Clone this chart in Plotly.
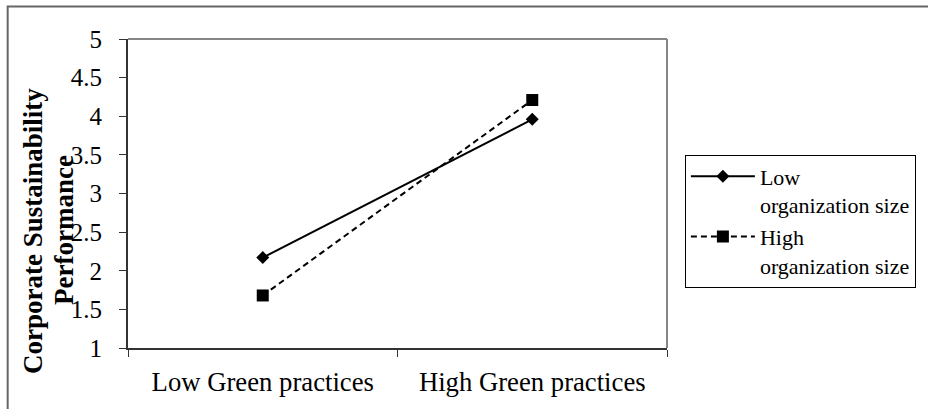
import plotly.graph_objects as go

categories = ["Low Green practices", "High Green practices"]
series_names = ["Low<br>organization size", "High<br>organization size"]
low_org_size = [2.17, 3.96]
high_org_size = [1.68, 4.21]
y_ticks = [1, 1.5, 2, 2.5, 3, 3.5, 4, 4.5, 5]
y_title_lines = ["Corporate Sustainability", "Performance"]

FONT = "Liberation Serif, Times New Roman, serif"

fig = go.Figure()
fig.add_trace(go.Scatter(
    x=categories, y=low_org_size, name=series_names[0], mode="lines+markers",
    line=dict(color="black", width=2),
    marker=dict(symbol="diamond", size=10, color="black"),
))
fig.add_trace(go.Scatter(
    x=categories, y=high_org_size, name=series_names[1], mode="lines+markers",
    line=dict(color="black", width=2, dash="6px,4px"),
    marker=dict(symbol="square", size=12, color="black"),
))

L, R, T, B = 128, 258, 39, 57
W, H = 928, 409
pw, ph = W - L - R, H - T - B

def px(xp):
    return (xp - L) / pw

def py(yp):
    return (H - B - yp) / ph

fig.update_layout(
    width=W, height=H,
    margin=dict(l=L, r=R, t=T, b=B),
    paper_bgcolor="white", plot_bgcolor="white",
    font=dict(family=FONT, color="black", size=25),
    showlegend=True,
    legend=dict(
        x=px(688), y=py(156), xanchor="left", yanchor="top",
        bordercolor="black", borderwidth=1, bgcolor="white",
        font=dict(family=FONT, size=22, color="black"),
        valign="top", tracegroupgap=0, itemwidth=64,
    ),
    xaxis=dict(
        type="category", range=[-0.5, 1.5], tickson="boundaries",
        ticks="outside", ticklen=7, tickcolor="#333", tickwidth=1,
        showline=True, linecolor="#333", linewidth=2,
        showgrid=False, zeroline=False,
        tickfont=dict(family=FONT, size=26.7, color="black"),
        ticklabelstandoff=9,
    ),
    yaxis=dict(
        range=[1, 5], tickvals=y_ticks,
        ticks="outside", ticklen=7, tickcolor="#333", tickwidth=1,
        showline=True, linecolor="#333", linewidth=2,
        showgrid=False, zeroline=False,
        tickfont=dict(family=FONT, size=25, color="black"),
        ticklabelstandoff=12,
    ),
    shapes=[
        dict(type="line", xref="paper", yref="paper", x0=0, x1=1, y0=1, y1=1,
             line=dict(color="#868686", width=2)),
        dict(type="line", xref="paper", yref="paper", x0=1, x1=1, y0=0, y1=1,
             line=dict(color="#868686", width=2)),
        dict(type="rect", xref="paper", yref="paper",
             x0=px(7), x1=px(1000), y0=py(6), y1=py(500),
             line=dict(color="#666", width=2)),
    ],
    annotations=[
        dict(text="<b>%s</b>" % y_title_lines[0], xref="paper", yref="paper",
             x=px(32), y=py(234), xanchor="center", yanchor="middle",
             textangle=-90, showarrow=False,
             font=dict(family=FONT, size=27, color="black")),
        dict(text="<b>%s</b>" % y_title_lines[1], xref="paper", yref="paper",
             x=px(63), y=py(232), xanchor="center", yanchor="middle",
             textangle=-90, showarrow=False,
             font=dict(family=FONT, size=27, color="black")),
    ],
)

fig.write_html("out.html", config={"displayModeBar": False},
               post_script="document.body.style.margin='0';")
